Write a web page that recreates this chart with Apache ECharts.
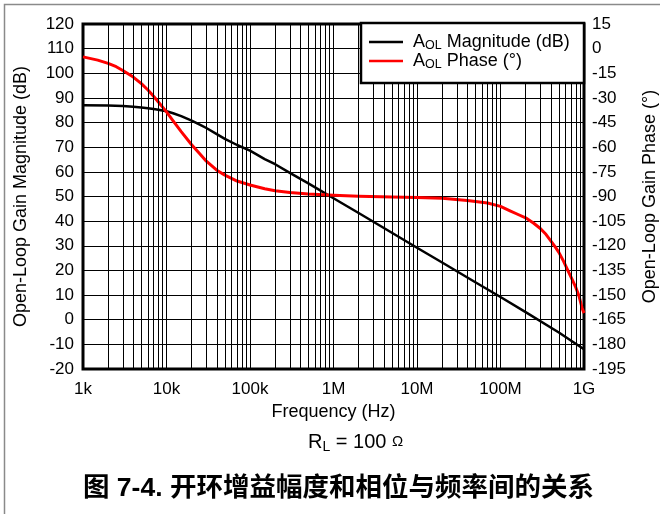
<!DOCTYPE html>
<html>
<head>
<meta charset="utf-8">
<script src="https://cdn.jsdelivr.net/npm/echarts@6/dist/echarts.min.js"></script>
<style>
  html, body { margin: 0; padding: 0; background: #fff; }
  #chart { width: 660px; height: 514px; }
</style>
</head>
<body>
<div id="chart"></div>
<script>
// Frequency decades and their labels
const freqTicks = [1e3, 1e4, 1e5, 1e6, 1e7, 1e8, 1e9];
const freqTickLabels = ['1k', '10k', '100k', '1M', '10M', '100M', '1G'];

// Open-loop gain magnitude (dB) vs frequency (Hz)
const magFreq = [1e3, 2e3, 3e3, 4e3, 5e3, 6e3, 7e3, 8e3, 1e4, 1.2e4, 1.5e4, 2e4, 2.5e4, 3e4, 4e4, 5e4,
  7e4, 1e5, 1.5e5, 2e5, 3e5, 5e5, 7e5, 1e6, 2e6, 5e6, 1e7, 2e7, 5e7, 1e8, 2e8, 5e8, 1e9];
const magDb = [87, 86.9, 86.7, 86.4, 86.1, 85.8, 85.5, 85.2, 84.6, 83.8, 82.6, 80.8, 79.2, 77.8, 75.3, 73.4,
  70.9, 68.6, 65.2, 63.1, 59.6, 55.3, 52.4, 49.3, 43.3, 35.3, 29.2, 23.2, 15.2, 9.2, 3.1, -5.2, -12];

// Open-loop phase (degrees) vs frequency (Hz)
const phaseFreq = [1e3, 1.5e3, 2e3, 2.5e3, 3e3, 4e3, 5e3, 6e3, 7e3, 8e3, 1e4, 1.2e4, 1.5e4, 2e4, 2.5e4, 3e4,
  4e4, 5e4, 7e4, 1e5, 1.5e5, 2e5, 3e5, 5e5, 1e6, 2e6, 5e6, 1e7, 2e7, 4e7, 7e7, 1e8, 1.3e8, 1.6e8, 2e8,
  2.5e8, 3e8, 3.5e8, 4e8, 4.5e8, 5e8, 5.7e8, 6.4e8, 7.2e8, 8e8, 8.7e8, 9.5e8, 1e9];
const phaseDeg = [-5, -7, -9, -11, -13.3, -17.3, -21.3, -25.2, -29, -32.5, -38.5, -44, -50.5, -58.5, -64, -68.5,
  -74, -77, -80.6, -83, -85.3, -86.5, -87.6, -88.5, -89.3, -89.8, -90.3, -90.6, -91.1, -92.4, -94, -96, -98.7, -100.8, -103,
  -106.3, -109.5, -113, -117, -120.5, -124, -129.5, -135, -140.5, -145.5, -150.5, -158, -161];

const FONT = '"Liberation Sans", Arial, sans-serif';

const magPairs = magFreq.map((f, i) => [f, magDb[i]]);
const phasePairs = phaseFreq.map((f, i) => [f, phaseDeg[i]]);

// Minor log grid: 2..9 within each decade
const minorLines = [];
for (let d = 0; d < freqTicks.length - 1; d++) {
  for (let m = 2; m <= 9; m++) minorLines.push({ xAxis: freqTicks[d] * m });
}

const chart = echarts.init(document.getElementById('chart'), null, { renderer: 'canvas' });

chart.setOption({
  animation: false,
  backgroundColor: '#fff',
  grid: {
    left: 83, right: 76, top: 24, bottom: 145,
    containLabel: false,
    outerBoundsMode: 'none',
    show: true, borderColor: '#000', borderWidth: 3, backgroundColor: 'transparent'
  },
  legend: {
    data: [
      { name: 'Magnitude (dB)', icon: 'rect', itemStyle: { color: '#000' } },
      { name: 'Phase (°)', icon: 'rect', itemStyle: { color: '#ff0000' } }
    ],
    orient: 'vertical',
    left: 369, top: 33,
    itemWidth: 34, itemHeight: 2.5, itemGap: 0,
    padding: 0,
    z: 20,
    selectedMode: false,
    formatter: name => '{a|A}{s|OL}{b| ' + name + '}',
    textStyle: {
      color: '#000',
      fontFamily: FONT,
      fontSize: 18,
      rich: {
        a: { fontFamily: FONT, fontSize: 18, lineHeight: 20, color: '#000', padding: [0, 0, 0, 5] },
        b: { fontFamily: FONT, fontSize: 18, lineHeight: 20, color: '#000' },
        s: { fontFamily: FONT, fontSize: 12.5, lineHeight: 12, color: '#000', verticalAlign: 'bottom' }
      }
    }
  },
  xAxis: {
    type: 'log',
    logBase: 10,
    min: freqTicks[0],
    max: freqTicks[freqTicks.length - 1],
    splitNumber: 6,
    name: 'Frequency (Hz)',
    nameLocation: 'middle',
    nameGap: 32,
    nameTextStyle: { fontFamily: FONT, fontSize: 18, color: '#000' },
    axisLine: { show: false },
    axisTick: { show: false },
    axisLabel: {
      margin: 12,
      fontFamily: FONT, fontSize: 17, color: '#000',
      formatter: v => {
        const i = freqTicks.findIndex(t => Math.abs(t - v) / t < 1e-6);
        return i >= 0 ? freqTickLabels[i] : '';
      }
    },
    splitLine: { show: true, lineStyle: { color: '#000', width: 1 } }
  },
  yAxis: [
    {
      type: 'value',
      min: -20, max: 120, interval: 10,
      name: 'Open-Loop Gain Magnitude (dB)',
      nameLocation: 'middle',
      nameRotate: 90,
      nameGap: 53,
      nameTextStyle: { fontFamily: FONT, fontSize: 18, color: '#000' },
      axisLine: { show: false },
      axisTick: { show: false },
      axisLabel: { margin: 9, fontFamily: FONT, fontSize: 17, color: '#000' },
      splitLine: { show: true, lineStyle: { color: '#000', width: 1 } }
    },
    {
      type: 'value',
      min: -195, max: 15, interval: 15,
      position: 'right',
      name: 'Open-Loop Gain Phase (°)',
      nameLocation: 'middle',
      nameRotate: 90,
      nameGap: 57,
      nameTextStyle: { fontFamily: FONT, fontSize: 18, color: '#000' },
      axisLine: { show: false },
      axisTick: { show: false },
      axisLabel: { margin: 8, fontFamily: FONT, fontSize: 17, color: '#000' },
      splitLine: { show: false }
    }
  ],
  series: [
    {
      name: 'minor-grid',
      type: 'line',
      data: [],
      silent: true,
      z: 1,
      markLine: {
        silent: true,
        symbol: 'none',
        label: { show: false },
        lineStyle: { color: '#000', width: 1, type: 'solid' },
        emphasis: { disabled: true },
        data: minorLines
      }
    },
    {
      name: 'Magnitude (dB)',
      type: 'line',
      yAxisIndex: 0,
      data: magPairs,
      showSymbol: false,
      symbol: 'none',
      z: 3,
      lineStyle: { color: '#000', width: 2.5, join: 'round' },
      itemStyle: { color: '#000' }
    },
    {
      name: 'Phase (°)',
      type: 'line',
      yAxisIndex: 1,
      data: phasePairs,
      showSymbol: false,
      symbol: 'none',
      z: 4,
      lineStyle: { color: '#ff0000', width: 3, join: 'round' },
      itemStyle: { color: '#ff0000' }
    }
  ],
  graphic: [
    {
      type: 'rect',
      z: 0,
      silent: true,
      shape: { x: 4.5, y: 4.5, width: 700, height: 600 },
      style: { fill: 'none', stroke: '#8a8a8a', lineWidth: 1.5 }
    },
    {
      type: 'rect',
      z: 10,
      silent: true,
      shape: { x: 361, y: 23, width: 223, height: 60 },
      style: { fill: '#fff', stroke: '#000', lineWidth: 2.5 }
    },
    {
      type: 'text',
      z: 10,
      silent: true,
      left: 308,
      top: 432,
      style: {
        text: '{r|R}{s|L}{r| = 100 }{o|Ω}',
        rich: {
          r: { fontFamily: FONT, fontSize: 20, lineHeight: 24, fill: '#000' },
          s: { fontFamily: FONT, fontSize: 14, lineHeight: 14, fill: '#000', verticalAlign: 'bottom' },
          o: { fontFamily: FONT, fontSize: 15, lineHeight: 24, fill: '#000' }
        }
      }
    },
    {
      type: 'text',
      z: 10,
      silent: true,
      left: 83,
      top: 475,
      style: {
        text: '图 7-4. 开环增益幅度和相位与频率间的关系',
        fontFamily: '"Liberation Sans", "Noto Sans CJK SC", sans-serif',
        fontWeight: 'bold',
        fontSize: 26.5,
        fill: '#000'
      }
    }
  ]
});
</script>
</body>
</html>
